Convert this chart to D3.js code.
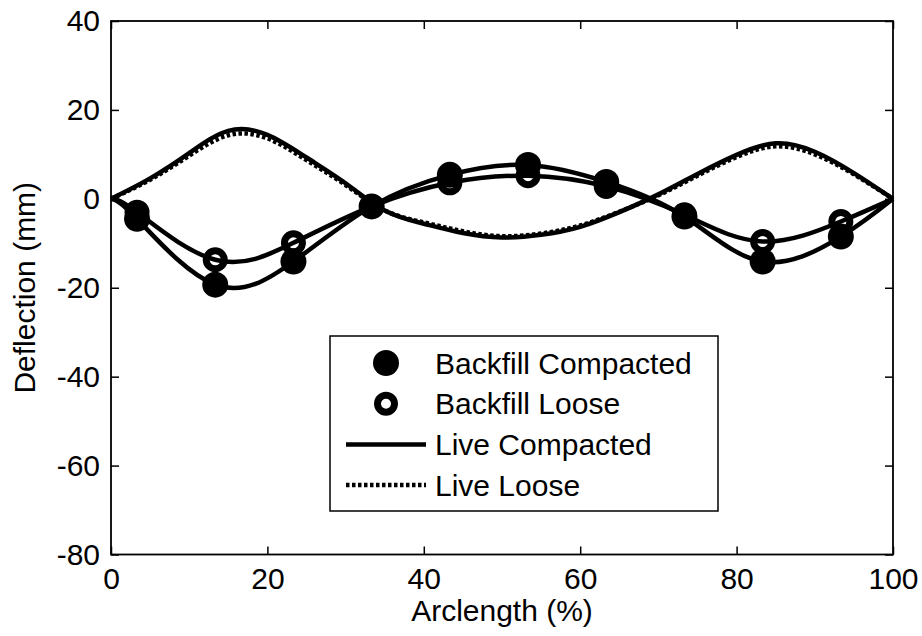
<!DOCTYPE html>
<meta charset="utf-8">
<style>
    body { margin: 0; background: #fff; }
    svg { display: block; }
    text { font-family: "Liberation Sans", Arial, sans-serif; fill: #000; }
</style>
<body>
<svg width="922" height="636"></svg>
<script src="https://d3js.org/d3.v7.min.js"></script>
<script>
    // measured backfill points (arclength %)
    const backfillX = [3.33, 13.33, 23.33, 33.33, 43.33, 53.33, 63.33, 73.33, 83.33, 93.33];
    const backfillCompacted = [-4.5, -19.3, -14.1, -1.7, 5.4, 7.6, 3.8, -4.0, -14.1, -8.5];
    const backfillLoose = [-3.0, -13.7, -9.9, -1.7, 3.6, 5.2, 2.8, -3.6, -9.6, -5.1];

    // live load deflection, read every 5 %
    const liveX = [0, 5, 10, 15, 20, 25, 30, 35, 40, 45, 50, 55, 60, 65, 70, 75, 80, 85, 90, 95, 100];
    const liveCompacted = [0, 4.6, 10.3, 15.3, 14.4, 9.3, 3.5, -2.6, -5.6, -7.7, -8.7, -8.1, -6.3, -3.0, 1.0, 5.6, 9.9, 12.5, 10.6, 5.8, 0];
    const liveLoose = [0, 4.3, 9.7, 14.3, 13.6, 8.7, 3.1, -2.6, -5.3, -7.3, -8.4, -7.8, -6.0, -2.9, 0.8, 5.2, 9.4, 11.8, 10.0, 5.5, 0];

    const xTicks = [0, 20, 40, 60, 80, 100];
    const yTicks = [-80, -60, -40, -20, 0, 20, 40];

    const legendLabels = ["Backfill Compacted", "Backfill Loose", "Live Compacted", "Live Loose"];

    const svg = d3.select("svg");
    const fs = 30;
    const x = d3.scaleLinear().domain([0, 100]).range([111, 893]);
    const y = d3.scaleLinear().domain([-80, 40]).range([554.5, 21]);

    // axes, MATLAB style ticks pointing in
    function styleAxis(g) {
        g.select(".domain").remove();
        g.selectAll(".tick line").attr("stroke", "#000").attr("stroke-width", 1.5);
        g.selectAll("text").style("font-size", fs + "px").attr("font-family", null).attr("fill", "#000");
    }
    const fmt = d => String(d);
    svg.append("g").attr("transform", `translate(0,${y(-80)})`)
        .call(d3.axisBottom(x).tickValues(xTicks).tickFormat(fmt).tickSizeInner(-8).tickSizeOuter(0).tickPadding(13))
        .call(styleAxis);
    svg.append("g").attr("transform", `translate(0,${y(40)})`)
        .call(d3.axisTop(x).tickValues(xTicks).tickSizeInner(-8).tickSizeOuter(0).tickFormat(""))
        .call(styleAxis);
    svg.append("g").attr("transform", `translate(${x(0)},0)`)
        .call(d3.axisLeft(y).tickValues(yTicks).tickFormat(fmt).tickSizeInner(-8).tickSizeOuter(0).tickPadding(11))
        .call(styleAxis);
    svg.append("g").attr("transform", `translate(${x(100)},0)`)
        .call(d3.axisRight(y).tickValues(yTicks).tickSizeInner(-8).tickSizeOuter(0).tickFormat(""))
        .call(styleAxis);

    svg.append("rect")
        .attr("x", x(0)).attr("y", y(40))
        .attr("width", x(100) - x(0)).attr("height", y(-80) - y(40))
        .attr("fill", "none").attr("stroke", "#000").attr("stroke-width", 1.8);

    const lineNat = d3.line().x(d => x(d[0])).y(d => y(d[1])).curve(d3.curveNatural);

    const withEnds = vals => [[0, 0], ...backfillX.map((v, i) => [v, vals[i]]), [100, 0]];

    const plot = svg.append("g");
    // fitted curves through backfill points
    [backfillCompacted, backfillLoose].forEach(vals => {
        plot.append("path").attr("d", lineNat(withEnds(vals)))
            .attr("fill", "none").attr("stroke", "#000").attr("stroke-width", 4.5);
    });
    plot.append("path").attr("d", lineNat(liveX.map((v, i) => [v, liveCompacted[i]])))
        .attr("fill", "none").attr("stroke", "#000").attr("stroke-width", 4.5);
    plot.append("path").attr("d", lineNat(liveX.map((v, i) => [v, liveLoose[i]])))
        .attr("fill", "none").attr("stroke", "#000").attr("stroke-width", 4.5)
        .attr("stroke-dasharray", "3.5,2.5");

    plot.selectAll(".bc").data(backfillX).join("circle")
        .attr("class", "bc")
        .attr("cx", d => x(d)).attr("cy", (d, i) => y(backfillCompacted[i]))
        .attr("r", 13).attr("fill", "#000");
    plot.selectAll(".bl").data(backfillX).join("circle")
        .attr("class", "bl")
        .attr("cx", d => x(d)).attr("cy", (d, i) => y(backfillLoose[i]))
        .attr("r", 9).attr("fill", "none").attr("stroke", "#000").attr("stroke-width", 7);

    // legend
    const leg = svg.append("g");
    leg.append("rect").attr("x", 330).attr("y", 336).attr("width", 388).attr("height", 175)
        .attr("fill", "#fff").attr("stroke", "#000").attr("stroke-width", 1.5);
    const rowY = i => 363 + i * 40.7;
    leg.append("circle").attr("cx", 386).attr("cy", rowY(0)).attr("r", 13).attr("fill", "#000");
    leg.append("circle").attr("cx", 386).attr("cy", rowY(1)).attr("r", 8.5)
        .attr("fill", "none").attr("stroke", "#000").attr("stroke-width", 7);
    leg.append("line").attr("x1", 346).attr("x2", 426).attr("y1", rowY(2)).attr("y2", rowY(2))
        .attr("stroke", "#000").attr("stroke-width", 4.5);
    leg.append("line").attr("x1", 346).attr("x2", 426).attr("y1", rowY(3)).attr("y2", rowY(3))
        .attr("stroke", "#000").attr("stroke-width", 4.5).attr("stroke-dasharray", "3.5,2.5");
    leg.selectAll("text").data(legendLabels).join("text")
        .attr("x", 435).attr("y", (d, i) => rowY(i) + 10.5)
        .style("font-size", fs + "px")
        .text(d => d);

    // axis labels
    svg.append("text")
        .attr("x", x(50)).attr("y", 621)
        .attr("text-anchor", "middle").style("font-size", fs + "px")
        .text("Arclength (%)");
    svg.append("text")
        .attr("transform", `translate(35,${y(-20)}) rotate(-90)`)
        .attr("text-anchor", "middle").style("font-size", fs + "px")
        .text("Deflection (mm)");
</script>
</body>
